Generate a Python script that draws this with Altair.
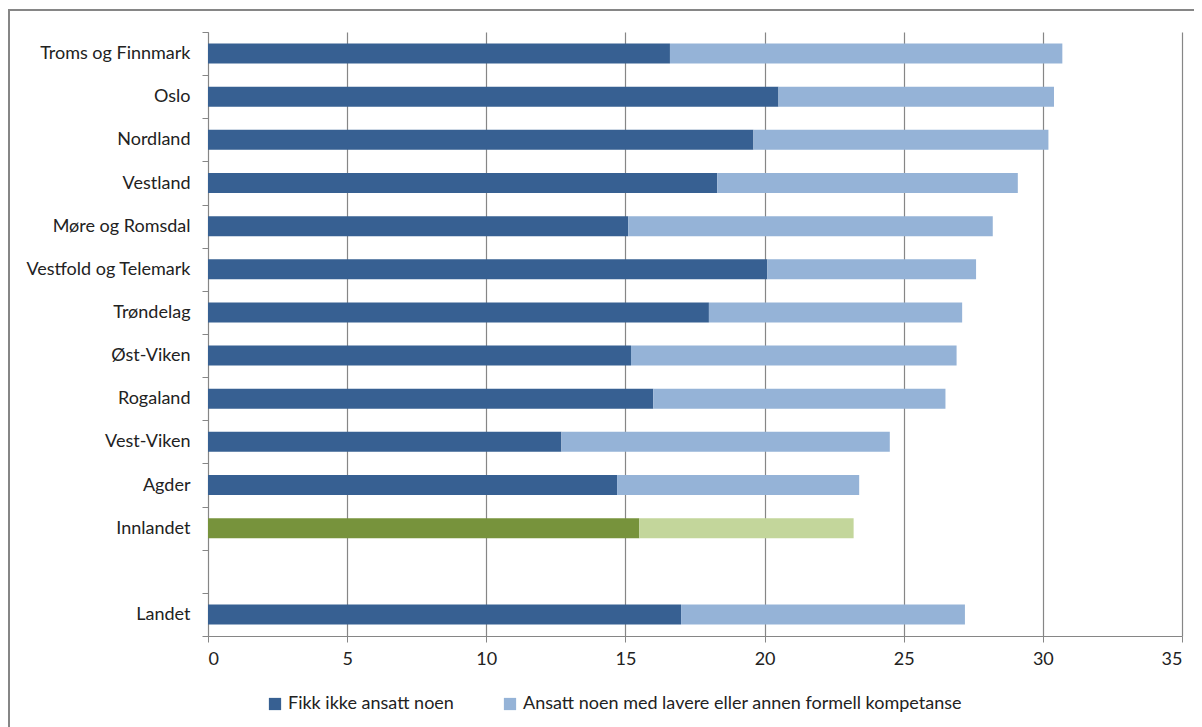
import altair as alt
import pandas as pd

categories = ["Troms og Finnmark", "Oslo", "Nordland", "Vestland", "Møre og Romsdal",
              "Vestfold og Telemark", "Trøndelag", "Øst-Viken", "Rogaland", "Vest-Viken",
              "Agder", "Innlandet", " ", "Landet"]
fikk_ikke = [16.6, 20.5, 19.6, 18.3, 15.1, 20.1, 18.0, 15.2, 16.0, 12.7, 14.7, 15.5, None, 17.0]
totals = [30.7, 30.4, 30.2, 29.1, 28.2, 27.6, 27.1, 26.9, 26.5, 24.5, 23.4, 23.2, None, 27.2]
series = ["Fikk ikke ansatt noen", "Ansatt noen med lavere eller annen formell kompetanse"]
hl_series = ["Innlandet: Fikk ikke ansatt noen", "Innlandet: Ansatt noen med lavere eller annen formell kompetanse"]
highlight = "Innlandet"

rows = []
for c, a, t in zip(categories, fikk_ikke, totals):
    if a is None:
        continue
    names = hl_series if c == highlight else series
    rows.append({"region": c, "serie": names[0], "value": a, "order": 0})
    rows.append({"region": c, "serie": names[1], "value": round(t - a, 2), "order": 1})
df = pd.DataFrame(rows)

W, H = 974, 604
font = "Lato"
fs = 18

bars = alt.Chart(df).mark_bar(size=20).encode(
    y=alt.Y("region:N", sort=categories,
            scale=alt.Scale(domain=categories, paddingInner=0, paddingOuter=0),
            axis=alt.Axis(title=None, tickBand="extent", labelFontSize=fs, labelColor="#222",
                          labelFont=font, labelPadding=12, domainColor="#868686",
                          tickColor="#868686", tickSize=6, labelLimit=300)),
    x=alt.X("value:Q", stack="zero",
            scale=alt.Scale(domain=[0, 35], nice=False),
            axis=alt.Axis(title=None, values=[0, 5, 10, 15, 20, 25, 30, 35], grid=True,
                          gridColor="#868686", gridWidth=1.2, domainColor="#868686",
                          tickColor="#868686", tickSize=6, labelFontSize=fs, labelColor="#222",
                          labelFont=font, labelPadding=8)),
    color=alt.Color("serie:N",
                    scale=alt.Scale(domain=series + hl_series,
                                    range=["#376092", "#95B3D7", "#77933C", "#C3D69B"]),
                    legend=alt.Legend(title=None, orient="none", legendX=58, legendY=663,
                                      direction="horizontal", values=series,
                                      symbolType="square", symbolSize=150,
                                      symbolStrokeWidth=0, labelFontSize=fs, labelColor="#222",
                                      labelFont=font, columnPadding=47, labelLimit=700)),
    order=alt.Order("order:Q"),
)

border = alt.Chart(pd.DataFrame({"k": [0]})).mark_rect(
    fill=None, stroke="#868686", strokeWidth=2, clip=False
).encode(
    x=alt.value(-199), x2=alt.value(W + 40),
    y=alt.value(-22), y2=alt.value(H + 140),
)

chart = alt.layer(border, bars).properties(
    width=W, height=H,
    autosize=alt.AutoSizeParams(type="none"),
    padding={"left": 200, "top": 24, "right": 12, "bottom": 91},
).configure_view(stroke=None)

chart.save("out.html", embed_options={"renderer": "svg", "actions": False})
